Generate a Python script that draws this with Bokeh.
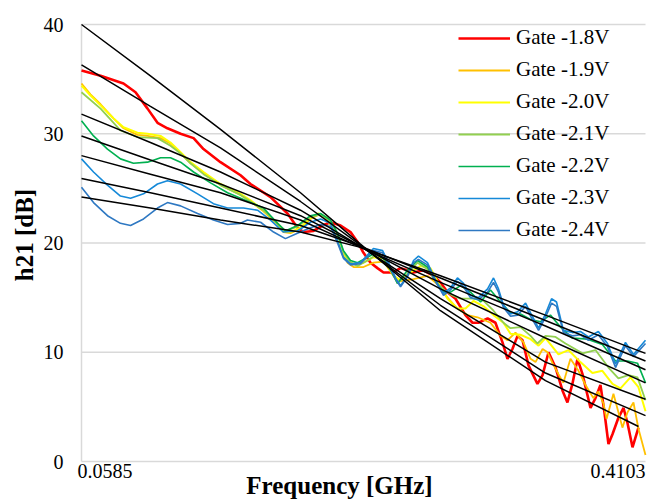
import math
from bokeh.plotting import figure
from bokeh.models import Range1d, Label, Legend, LegendItem
from bokeh.embed import file_html
from bokeh.resources import INLINE

# ---------------- data (frequency in GHz, h21 in dB) ----------------
x_tick_values = [0.0585, 0.4103]
x_tick_labels = ["0.0585", "0.4103"]
y_ticks = [0, 10, 20, 30, 40]

series_names = ["Gate -1.8V", "Gate -1.9V", "Gate -2.0V", "Gate -2.1V",
                "Gate -2.2V", "Gate -2.3V", "Gate -2.4V"]

freq_18 = [0.0585, 0.0704, 0.0847, 0.0922, 0.0997, 0.1059, 0.1121, 0.1203, 0.1284, 0.1346,
           0.1452, 0.1577, 0.1639, 0.1764, 0.1870, 0.1932, 0.1970, 0.2032, 0.2088, 0.2138,
           0.2201, 0.2263, 0.2307, 0.2344, 0.2388, 0.2431, 0.2469, 0.2525, 0.2575, 0.2618,
           0.2656, 0.2718, 0.2781, 0.2824, 0.2868, 0.2918, 0.2980, 0.3024, 0.3061, 0.3118,
           0.3167, 0.3211, 0.3242, 0.3273, 0.3305, 0.3336, 0.3373, 0.3429, 0.3461, 0.3498,
           0.3542, 0.3585, 0.3616, 0.3647, 0.3679, 0.3710, 0.3760, 0.3791, 0.3822, 0.3847,
           0.3872, 0.3897, 0.3934, 0.3966, 0.3991, 0.4022, 0.4059]
h21_18 = [35.8, 35.3, 34.6, 33.8, 32.3, 31.0, 30.5, 30.0, 29.6, 28.6,
          27.4, 26.2, 25.4, 24.2, 22.7, 21.4, 21.0, 21.1, 21.6, 21.9,
          21.6, 21.0, 20.1, 19.1, 18.2, 17.7, 17.3, 17.3, 17.7, 17.5,
          17.3, 17.5, 17.0, 16.4, 15.5, 14.9, 13.4, 12.7, 12.7, 13.1,
          12.7, 10.9, 9.4, 10.3, 11.5, 11.1, 8.8, 7.1, 7.9, 10.0,
          8.6, 6.5, 5.4, 7.1, 9.4, 8.0, 4.9, 5.8, 7.0, 4.5,
          1.6, 2.5, 4.0, 4.9, 3.5, 1.3, 3.1]

freq_19 = [0.0585, 0.0641, 0.0704, 0.0785, 0.0847, 0.0934, 0.0997, 0.1078, 0.1140, 0.1203,
           0.1265, 0.1346, 0.1452, 0.1577, 0.1639, 0.1720, 0.1808, 0.1845, 0.1889, 0.1951,
           0.2013, 0.2063, 0.2119, 0.2157, 0.2201, 0.2244, 0.2282, 0.2344, 0.2406, 0.2469,
           0.2531, 0.2575, 0.2656, 0.2743, 0.2824, 0.2868, 0.2930, 0.2993, 0.3055, 0.3136,
           0.3199, 0.3242, 0.3292, 0.3342, 0.3386, 0.3417, 0.3461, 0.3492, 0.3523, 0.3560,
           0.3591, 0.3635, 0.3685, 0.3729, 0.3778, 0.3809, 0.3841, 0.3860, 0.3903, 0.3934,
           0.3959, 0.3991, 0.4028, 0.4059, 0.4103]
h21_19 = [34.6, 33.6, 32.7, 31.4, 30.5, 29.9, 29.8, 29.6, 29.1, 28.2,
          27.3, 26.4, 25.3, 24.4, 23.8, 22.9, 21.7, 21.0, 20.9, 21.3,
          22.2, 22.6, 22.2, 21.0, 19.5, 18.2, 17.8, 17.8, 18.2, 18.3,
          17.0, 16.5, 16.7, 17.0, 16.0, 15.0, 14.0, 13.4, 13.2, 12.7,
          11.5, 11.1, 11.8, 10.9, 9.4, 9.1, 10.3, 10.0, 9.0, 8.0,
          7.2, 9.4, 8.3, 7.0, 5.8, 6.4, 5.3, 3.9, 6.2, 4.5,
          3.1, 4.5, 5.4, 3.0, 0.6]

freq_20 = [0.0585, 0.0641, 0.0704, 0.0785, 0.0847, 0.0934, 0.0997, 0.1078, 0.1140, 0.1203,
           0.1265, 0.1346, 0.1452, 0.1577, 0.1639, 0.1720, 0.1808, 0.1845, 0.1889, 0.1951,
           0.2013, 0.2063, 0.2119, 0.2157, 0.2201, 0.2244, 0.2282, 0.2344, 0.2406, 0.2469,
           0.2531, 0.2575, 0.2637, 0.2700, 0.2762, 0.2824, 0.2868, 0.2930, 0.2980, 0.3030,
           0.3093, 0.3155, 0.3217, 0.3261, 0.3323, 0.3386, 0.3436, 0.3479, 0.3523, 0.3560,
           0.3622, 0.3697, 0.3772, 0.3834, 0.3897, 0.3947, 0.4009, 0.4059, 0.4103]
h21_20 = [34.4, 33.5, 32.6, 31.4, 30.6, 30.1, 30.0, 29.8, 29.2, 28.3,
          27.4, 26.5, 25.4, 24.5, 23.9, 23.0, 21.8, 21.1, 21.0, 21.4,
          22.3, 22.7, 22.3, 21.1, 19.6, 18.4, 18.1, 18.2, 18.7, 18.6,
          17.0, 16.6, 17.3, 17.9, 17.7, 16.0, 14.9, 14.0, 14.0, 14.7,
          14.2, 13.4, 12.7, 11.7, 11.6, 11.2, 10.6, 11.3, 10.5, 9.8,
          10.2, 9.1, 8.1, 8.3, 7.1, 6.7, 7.7, 6.8, 4.6]

freq_21 = [0.0585, 0.0704, 0.0828, 0.0934, 0.1059, 0.1140, 0.1203, 0.1265, 0.1346, 0.1452,
           0.1577, 0.1639, 0.1720, 0.1808, 0.1857, 0.1932, 0.2013, 0.2076, 0.2138, 0.2182,
           0.2219, 0.2263, 0.2307, 0.2369, 0.2431, 0.2494, 0.2556, 0.2618, 0.2681, 0.2743,
           0.2806, 0.2856, 0.2899, 0.2949, 0.3030, 0.3093, 0.3155, 0.3217, 0.3261, 0.3323,
           0.3386, 0.3429, 0.3479, 0.3542, 0.3604, 0.3710, 0.3791, 0.3872, 0.3934, 0.3997,
           0.4053, 0.4103]
h21_21 = [33.8, 32.3, 30.3, 29.7, 29.6, 28.9, 28.2, 27.3, 26.3, 25.3,
          24.4, 23.8, 23.0, 21.8, 21.1, 21.5, 22.4, 22.6, 22.0, 20.8,
          19.2, 18.2, 17.9, 18.4, 19.0, 18.3, 16.3, 17.2, 18.2, 17.6,
          16.3, 15.6, 15.2, 14.9, 14.9, 14.7, 13.8, 12.7, 12.2, 12.3,
          11.5, 10.8, 11.5, 11.4, 10.8, 9.9, 10.2, 8.6, 7.6, 7.9,
          7.7, 5.6]

freq_22 = [0.0585, 0.0660, 0.0747, 0.0828, 0.0909, 0.0997, 0.1078, 0.1140, 0.1203, 0.1284,
           0.1390, 0.1496, 0.1577, 0.1720, 0.1808, 0.1857, 0.1932, 0.2013, 0.2076, 0.2138,
           0.2182, 0.2219, 0.2263, 0.2307, 0.2369, 0.2419, 0.2481, 0.2556, 0.2618, 0.2681,
           0.2743, 0.2806, 0.2843, 0.2887, 0.2949, 0.3011, 0.3074, 0.3136, 0.3199, 0.3261,
           0.3323, 0.3386, 0.3448, 0.3510, 0.3573, 0.3647, 0.3741, 0.3834, 0.3916, 0.3991,
           0.4053, 0.4103]
h21_22 = [31.2, 29.8, 28.6, 27.7, 27.3, 27.4, 27.8, 27.8, 27.4, 26.5,
          25.5, 24.6, 24.1, 23.2, 21.8, 21.1, 21.6, 22.5, 22.7, 22.1,
          20.9, 19.3, 18.4, 18.2, 18.7, 19.1, 18.4, 16.3, 17.5, 18.4,
          17.8, 16.2, 15.5, 15.5, 16.1, 15.5, 14.6, 15.7, 14.6, 13.6,
          13.5, 13.0, 12.8, 13.4, 12.3, 11.3, 11.2, 10.7, 9.2, 9.2,
          9.0, 7.2]

freq_23 = [0.0585, 0.0660, 0.0747, 0.0828, 0.0891, 0.0972, 0.1059, 0.1121, 0.1203, 0.1309,
           0.1408, 0.1496, 0.1595, 0.1683, 0.1764, 0.1845, 0.1932, 0.2013, 0.2076, 0.2138,
           0.2182, 0.2219, 0.2263, 0.2325, 0.2406, 0.2463, 0.2500, 0.2544, 0.2575, 0.2618,
           0.2656, 0.2687, 0.2743, 0.2781, 0.2812, 0.2843, 0.2887, 0.2930, 0.2968, 0.3011,
           0.3061, 0.3118, 0.3155, 0.3186, 0.3217, 0.3261, 0.3305, 0.3355, 0.3386, 0.3436,
           0.3479, 0.3517, 0.3548, 0.3591, 0.3647, 0.3697, 0.3747, 0.3809, 0.3866, 0.3916,
           0.3978, 0.4028, 0.4103]
h21_23 = [27.7, 26.5, 25.3, 24.3, 24.1, 24.5, 25.4, 25.7, 25.4, 24.5,
          23.6, 23.2, 23.2, 23.0, 22.1, 21.0, 21.1, 21.9, 22.2, 21.8,
          20.2, 18.7, 18.1, 18.2, 19.5, 19.3, 18.2, 16.8, 16.1, 17.0,
          18.4, 18.8, 18.2, 17.0, 16.1, 15.4, 15.9, 16.8, 16.3, 15.2,
          15.0, 15.8, 16.8, 15.8, 14.3, 13.5, 13.7, 14.5, 13.6, 12.2,
          13.5, 14.9, 14.6, 12.0, 11.8, 11.9, 11.4, 11.9, 10.8, 8.9,
          10.9, 9.8, 11.1]

freq_24 = [0.0585, 0.0660, 0.0747, 0.0828, 0.0891, 0.0972, 0.1059, 0.1121, 0.1203, 0.1309,
           0.1408, 0.1496, 0.1577, 0.1620, 0.1702, 0.1783, 0.1857, 0.1932, 0.2013, 0.2076,
           0.2138, 0.2182, 0.2219, 0.2263, 0.2325, 0.2406, 0.2463, 0.2500, 0.2544, 0.2575,
           0.2618, 0.2656, 0.2687, 0.2743, 0.2781, 0.2812, 0.2843, 0.2887, 0.2930, 0.2968,
           0.3011, 0.3061, 0.3118, 0.3155, 0.3186, 0.3217, 0.3261, 0.3305, 0.3355, 0.3386,
           0.3436, 0.3479, 0.3517, 0.3548, 0.3591, 0.3647, 0.3697, 0.3747, 0.3809, 0.3866,
           0.3916, 0.3978, 0.4028, 0.4103]
h21_24 = [25.1, 23.7, 22.5, 21.8, 21.6, 22.2, 23.2, 23.7, 23.4, 22.7,
          22.1, 21.7, 21.8, 22.1, 21.9, 21.0, 20.4, 20.9, 21.4, 21.7,
          21.5, 20.0, 18.6, 18.0, 18.1, 19.3, 19.1, 18.0, 16.7, 16.0,
          16.9, 18.2, 18.5, 18.0, 16.8, 16.0, 15.2, 15.7, 16.5, 16.0,
          15.0, 14.8, 15.5, 16.4, 15.5, 14.1, 13.3, 13.4, 14.2, 13.3,
          12.0, 13.2, 14.5, 14.2, 11.8, 11.5, 11.6, 11.1, 11.6, 10.5,
          8.6, 10.6, 9.6, 10.8]

# trend (fit) curves, black
fit_freq = [0.0585, 0.1015, 0.1452, 0.1951, 0.2325, 0.2824, 0.3479, 0.4103]
fit_freq_a = [0.0585, 0.1015, 0.1452, 0.1951, 0.2325, 0.2824, 0.3479, 0.4059]
fit_a = [40.0, 35.3, 30.4, 24.6, 19.9, 13.8, 7.4, 3.2]
fit_b = [36.3, 32.5, 28.7, 23.8, 19.8, 14.3, 8.1, 4.2]
fit_c = [31.8, 29.2, 26.5, 23.0, 19.7, 14.9, 9.1, 5.7]
fit_d = [29.8, 27.6, 25.4, 22.5, 19.7, 15.8, 11.3, 7.2]
fit_e = [28.0, 26.3, 24.6, 22.1, 19.6, 16.4, 12.4, 8.4]
fit_f = [25.9, 24.6, 23.2, 21.6, 19.7, 16.8, 12.9, 9.2]
fit_g = [24.2, 23.2, 22.1, 21.0, 19.6, 17.0, 13.4, 9.9]

# ---------------- layout (pixels) and styling ----------------
W, H = 650, 499
PL, PR, PT, PB = 81, 645, 24, 461      # plot-area edges in canvas pixels
FONT = "Liberation Serif"
GRID = "#D9D9D9"
colors = ["#FF0000", "#FFC000", "#FFFF00", "#92D050", "#00B050", "#1589D8", "#2E78C2"]
widths = [2.6, 1.8, 2.0, 1.8, 1.6, 1.6, 1.6]

x0, x1 = x_tick_values[0], x_tick_values[-1]
y0, y1 = y_ticks[0], y_ticks[-1]
kx = (x1 - x0) / (PR - PL)
ky = (y1 - y0) / (PB - PT)

# the frame covers the whole canvas so that every text can be drawn as a label
p = figure(width=W, height=H, output_backend="svg", toolbar_location=None,
           x_range=Range1d(x0 - PL * kx, x1 + (W - PR) * kx),
           y_range=Range1d(y0 - (H - PB) * ky, y1 + PT * ky),
           min_border_left=0, min_border_right=0, min_border_top=0, min_border_bottom=0)
p.xaxis.visible = False
p.yaxis.visible = False
p.xgrid.visible = False
p.ygrid.visible = False
p.outline_line_color = None
p.background_fill_color = "white"
p.border_fill_color = "white"

# horizontal gridlines and the left axis line
n_t = len(y_ticks)
p.segment(x0=[x0] * n_t, y0=y_ticks, x1=[x1] * n_t, y1=y_ticks,
          line_color=GRID, line_width=1.5)
p.segment(x0=[x0], y0=[y0], x1=[x0], y1=[y1], line_color=GRID, line_width=1.5)

# data series
data = [(freq_18, h21_18), (freq_19, h21_19), (freq_20, h21_20), (freq_21, h21_21),
        (freq_22, h21_22), (freq_23, h21_23), (freq_24, h21_24)]
items = []
for (fx, fy), name, c, w in zip(data, series_names, colors, widths):
    n = min(len(fx), len(fy))
    r = p.line(fx[:n], fy[:n], line_color=c, line_width=w)
    items.append(LegendItem(label=name, renderers=[r]))

for fx, fy in [(fit_freq_a, fit_a), (fit_freq, fit_b), (fit_freq, fit_c), (fit_freq, fit_d),
               (fit_freq, fit_e), (fit_freq, fit_f), (fit_freq, fit_g)]:
    p.line(fx, fy, line_color="#000000", line_width=1.5)

# legend
legend = Legend(items=items, location=(458, 257))
legend.label_text_font = FONT
legend.label_text_font_size = "21px"
legend.label_text_color = "#000000"
legend.glyph_width = 52
legend.glyph_height = 24
legend.label_height = 24
legend.label_standoff = 6
legend.spacing = 7
legend.padding = 6
legend.margin = 0
legend.border_line_color = None
legend.background_fill_alpha = 0
p.add_layout(legend)

# y tick labels
for t in y_ticks:
    p.add_layout(Label(x=x0, y=t, text=str(t), text_align="right", text_baseline="middle",
                       x_offset=-18, text_font=FONT, text_font_size="20px",
                       text_color="#000000"))
# x tick labels: first left-aligned, last right-aligned
p.add_layout(Label(x=x0, y=y0, text=x_tick_labels[0], text_align="left",
                   text_baseline="middle", x_offset=-4, y_offset=-9,
                   text_font=FONT, text_font_size="20px", text_color="#000000"))
p.add_layout(Label(x=x1, y=y0, text=x_tick_labels[1], text_align="right",
                   text_baseline="middle", x_offset=0, y_offset=-9,
                   text_font=FONT, text_font_size="20px", text_color="#000000"))
# axis titles
p.add_layout(Label(x=x0, y=y0, text="Frequency [GHz]", text_align="center",
                   text_baseline="bottom", x_offset=258, y_offset=-(H - PB) + 1,
                   text_font=FONT, text_font_style="bold", text_font_size="25px",
                   text_color="#000000"))
p.add_layout(Label(x=x0, y=20, text="h21 [dB]", text_align="center",
                   text_baseline="middle", x_offset=-57, y_offset=8, angle=math.pi / 2,
                   text_font=FONT, text_font_style="bold", text_font_size="25px",
                   text_color="#000000"))

open("out.html", "w").write(file_html(p, INLINE))
